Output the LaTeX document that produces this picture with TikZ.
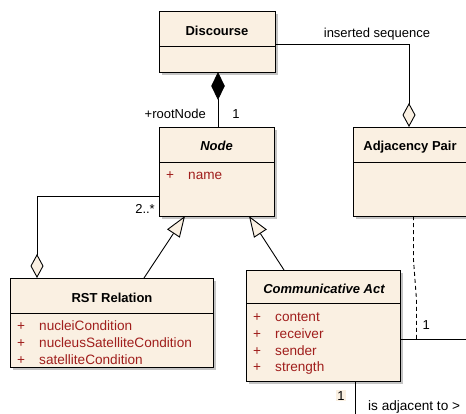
\documentclass[tikz,border=0pt]{standalone}
\usepackage{fontspec}
\setmainfont{Liberation Sans}
\usetikzlibrary{arrows.meta,shadows}
\definecolor{boxfill}{HTML}{FAF0E2}
\definecolor{attr}{HTML}{A01E1C}
\definecolor{shadowc}{HTML}{C4C4C4}
\begin{document}
\begin{tikzpicture}[x=1pt,y=-1pt,
  umlbox/.style={draw=black, fill=boxfill, line width=0.9pt, anchor=north west,
    inner sep=0pt, outer sep=0pt,
    drop shadow={shadow xshift=3pt,shadow yshift=-3pt,opacity=1,fill=shadowc}},
  divider/.style={line width=0.9pt},
  conn/.style={line width=0.9pt},
  txt/.style={font=\fontsize{13}{15}\selectfont, inner sep=0pt},
  title/.style={font=\fontsize{13}{15}\selectfont\bfseries, inner sep=0pt, anchor=base},
  ititle/.style={font=\fontsize{13}{15}\selectfont\bfseries\itshape, inner sep=0pt, anchor=base},
  attrtxt/.style={font=\fontsize{13.6}{15}\selectfont, text=attr, inner sep=0pt, anchor=base west},
  composition/.style={conn, -{Diamond[length=28pt,width=13.5pt,fill=black]}},
  aggregation/.style={conn, -{Diamond[length=24pt,width=13pt,fill=boxfill]}},
  generalization/.style={conn, -{Triangle[length=21pt,width=15pt,fill=boxfill]}},
]
\useasboundingbox (0,0) rectangle (466,413);
\clip (0,0) rectangle (466,413);

% boxes
\node[umlbox, minimum width=116pt, minimum height=61pt] (disc) at (159,11) {};
\node[umlbox, minimum width=115pt, minimum height=89pt] (nodebox) at (159,127) {};
\node[umlbox, minimum width=125pt, minimum height=89pt] (adj) at (353,127) {};
\node[umlbox, minimum width=203pt, minimum height=89pt] (rst) at (10,278) {};
\node[umlbox, minimum width=154pt, minimum height=111pt] (ca) at (246,270) {};

% dividers
\coordinate (d1) at (0,46);
\coordinate (d2) at (0,162);
\coordinate (d3) at (0,313);
\coordinate (d4) at (0,303);
\draw[divider] (disc.west |- d1) -- (disc.east |- d1);
\draw[divider] (nodebox.west |- d2) -- (nodebox.east |- d2);
\draw[divider] (adj.west |- d2) -- (adj.east |- d2);
\draw[divider] (rst.west |- d3) -- (rst.east |- d3);
\draw[divider] (ca.west |- d4) -- (ca.east |- d4);

% titles
\node[title] (tdisc) at (217,35) {Discourse};
\node[ititle] (tnode) at (216.5,150.7) {Node};
\node[title] (tadj) at (410,150.7) {Adjacency Pair};
\node[title] (trst) at (112,302.3) {RST Relation};
\node[ititle] (tca) at (324,293.3) {Communicative Act};

% attributes
\node[attrtxt] (p1) at (166,179) {+};
\node[attrtxt] (a1) at (188,179) {name};

\node[attrtxt] (p2) at (17,330.5) {+};
\node[attrtxt] (a2) at (39,330.5) {nucleiCondition};
\node[attrtxt] (p3) at (17,347.3) {+};
\node[attrtxt] (a3) at (39,347.3) {nucleusSatelliteCondition};
\node[attrtxt] (p4) at (17,364) {+};
\node[attrtxt] (a4) at (39,364) {satelliteCondition};

\node[attrtxt] (p5) at (253,321.7) {+};
\node[attrtxt] (a5) at (275,321.7) {content};
\node[attrtxt] (p6) at (253,338.3) {+};
\node[attrtxt] (a6) at (275,338.3) {receiver};
\node[attrtxt] (p7) at (253,355) {+};
\node[attrtxt] (a7) at (275,355) {sender};
\node[attrtxt] (p8) at (253,371.7) {+};
\node[attrtxt] (a8) at (275,371.7) {strength};

% helper coordinates
\coordinate (cx) at (218,0);
\coordinate (isy) at (0,44);
\coordinate (isx) at (409,0);
\coordinate (ry) at (0,196);
\coordinate (rx) at (37,0);
\coordinate (g1s) at (144,0);
\coordinate (g1t) at (185,0);
\coordinate (g2s) at (284,0);
\coordinate (g2t) at (249,0);
\coordinate (dx) at (413.5,0);
\coordinate (ay) at (0,339);
\coordinate (bx) at (355,0);
\coordinate (aend) at (470,339);
\coordinate (bend) at (355,416);
\coordinate (dk1) at (413.5,260);
\coordinate (dk2) at (416.5,300);
\coordinate (dend) at (416.5,339);

% connectors
\draw[composition] (nodebox.north -| cx) -- (disc.south -| cx);
\draw[aggregation] (disc.east |- isy) -| (adj.north -| isx);
\draw[aggregation] (nodebox.west |- ry) -| (rst.north -| rx);
\draw[generalization] (rst.north -| g1s) -- (nodebox.south -| g1t);
\draw[generalization] (ca.north -| g2s) -- (nodebox.south -| g2t);
\draw[conn] (ca.east |- ay) -- (aend);
\draw[conn, dash pattern=on 4pt off 3pt] (adj.south -| dx) -- (dk1) -- (dk2) -- (dend);
\draw[conn] (ca.south -| bx) -- (bend);

% labels
\node[txt, anchor=base] (lis) at (377,37) {inserted sequence};
\node[txt, anchor=base east] (lroot) at (206,118.3) {+rootNode};
\node[txt, anchor=base] (lone1) at (236,118.3) {1};
\node[txt, anchor=base east] (lmult) at (155,213.3) {2..*};
\node[txt, anchor=base west] (lone2) at (422.5,329) {1};
\node[txt, anchor=base, fill=boxfill, inner sep=1pt] (lone3) at (341,400) {1};
\node[txt, anchor=base west, font=\fontsize{13.6}{15}\selectfont] (ladj) at (368,410.7) {is adjacent to >};
\end{tikzpicture}
\end{document}
